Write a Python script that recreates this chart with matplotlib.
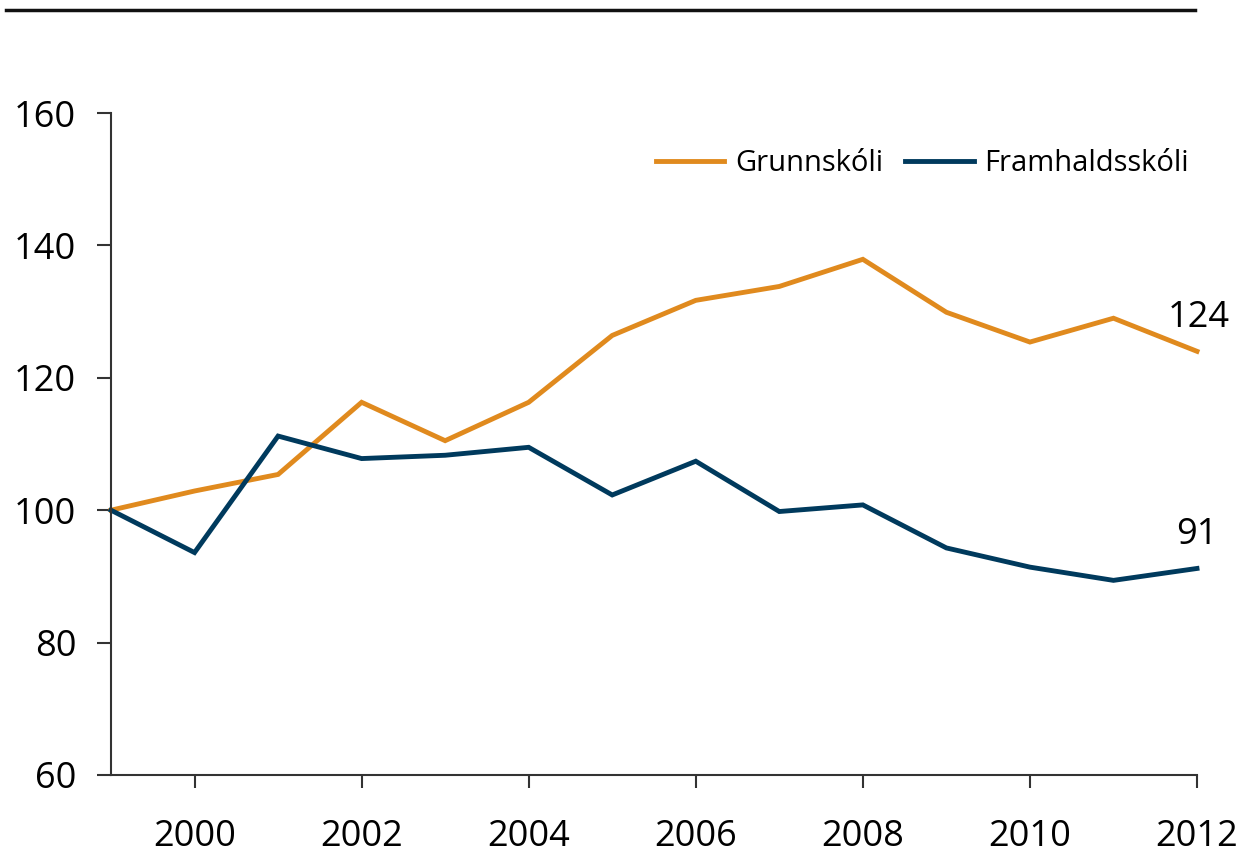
import matplotlib
matplotlib.use('Agg')
import matplotlib.pyplot as plt
from matplotlib.lines import Line2D

plt.rcParams['font.family'] = ['Open Sans', 'DejaVu Sans']

years = list(range(1999, 2013))
grunnskoli = [100, 102.9, 105.4, 116.3, 110.5, 116.3, 126.4, 131.7, 133.8,
              137.9, 129.9, 125.4, 129.0, 124.0]
framhaldsskoli = [100, 93.6, 111.2, 107.8, 108.3, 109.5, 102.3, 107.4, 99.8,
                  100.8, 94.3, 91.4, 89.4, 91.2]
end_labels = ['124', '91']
series_names = ['Grunnskóli', 'Framhaldsskóli']

ORANGE = '#E08A1E'
NAVY = '#003A5D'
AX_C = '#333333'

fig = plt.figure(figsize=(12.43, 8.56), dpi=100)
ax = fig.add_axes([111/1243, 1 - 775/856, (1197 - 111)/1243, (775 - 113)/856])

ax.plot(years, grunnskoli, color=ORANGE, lw=3.5, label=series_names[0],
        solid_joinstyle='miter', clip_on=False)
ax.plot(years, framhaldsskoli, color=NAVY, lw=3.5, label=series_names[1],
        solid_joinstyle='miter', clip_on=False)

ax.set_xlim(1999, 2012)
ax.set_ylim(60, 160)
ax.set_xticks(range(2000, 2013, 2))
ax.set_yticks(range(60, 161, 20))

for s in ['top', 'right']:
    ax.spines[s].set_visible(False)
for s in ['left', 'bottom']:
    ax.spines[s].set_color(AX_C)
    ax.spines[s].set_linewidth(1.5)

ax.tick_params(axis='y', length=10, width=1.5, color=AX_C, pad=15, labelsize=26)
ax.tick_params(axis='x', length=9, width=1.5, color=AX_C, pad=23, labelsize=26)

ax.text(2012.02, grunnskoli[-1] + 2.3, end_labels[0], ha='center', va='bottom',
        fontsize=26)
ax.text(2012.0, framhaldsskoli[-1] + 2.3, end_labels[1], ha='center', va='bottom',
        fontsize=26)

leg = ax.legend(loc='upper right', bbox_to_anchor=(1.017, 0.985), ncol=2,
                frameon=False, fontsize=21, handlelength=2.36, handletextpad=0.38,
                columnspacing=0.72)

# rule across the top
fig.add_artist(Line2D([6/1243, 1195/1243], [1 - 10/856, 1 - 10/856],
                      color='#111111', lw=2.5))

plt.savefig('out.png', dpi=100, facecolor='white')
